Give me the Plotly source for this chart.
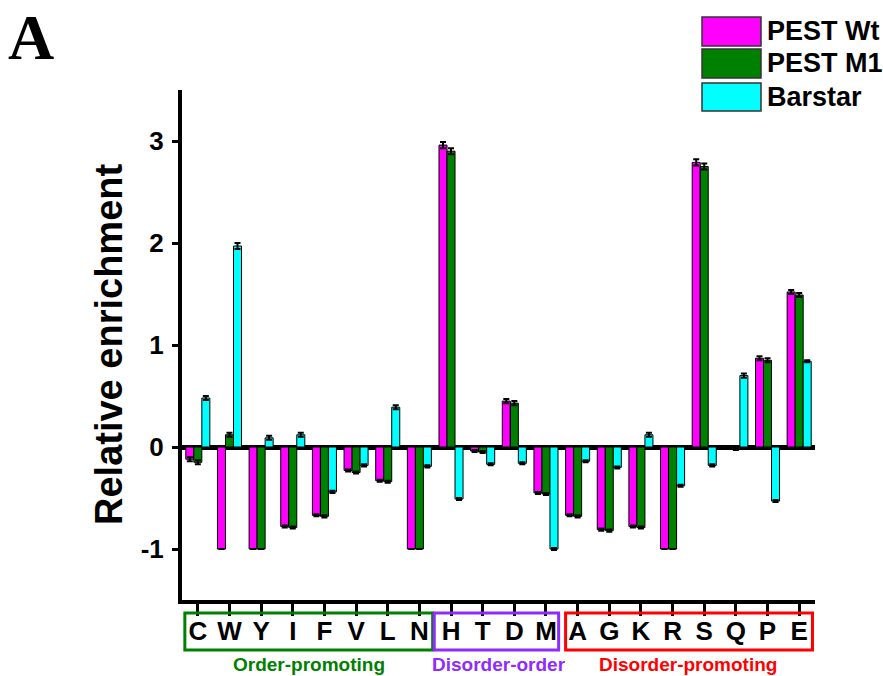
import plotly.graph_objects as go

categories = ["C", "W", "Y", "I", "F", "V", "L", "N", "H", "T",
              "D", "M", "A", "G", "K", "R", "S", "Q", "P", "E"]
pest_wt = [-0.12, -1.0, -1.0, -0.78, -0.67, -0.23, -0.33, -1.0, 2.96, -0.04,
           0.45, -0.45, -0.67, -0.81, -0.78, -1.0, 2.79, -0.01, 0.87, 1.52]
pest_m1 = [-0.15, 0.12, -1.0, -0.79, -0.68, -0.25, -0.34, -1.0, 2.90, -0.05,
           0.43, -0.46, -0.68, -0.82, -0.79, -1.0, 2.75, -0.02, 0.85, 1.49]
barstar = [0.48, 1.97, 0.09, 0.12, -0.44, -0.18, 0.39, -0.19, -0.51, -0.17,
           -0.16, -1.0, -0.14, -0.20, 0.12, -0.38, -0.18, 0.70, -0.53, 0.84]
pest_wt_err = [0.02, 0, 0, 0.01, 0.01, 0.01, 0.01, 0, 0.03, 0.01,
               0.02, 0.01, 0.01, 0.01, 0.01, 0, 0.03, 0.01, 0.02, 0.02]
pest_m1_err = [0.02, 0.02, 0, 0.01, 0.01, 0.01, 0.01, 0, 0.03, 0.01,
               0.02, 0.01, 0.01, 0.01, 0.01, 0, 0.03, 0.01, 0.02, 0.02]
barstar_err = [0.02, 0.03, 0.02, 0.02, 0.01, 0.01, 0.02, 0.01, 0.01, 0.01,
               0.01, 0.01, 0.01, 0.01, 0.02, 0.01, 0.01, 0.02, 0.01, 0.01]
y_tick_values = [-1, 0, 1, 2, 3]
y_tick_labels = ["-1", "0", "1", "2", "3"]
series_names = ["PEST Wt", "PEST M1", "Barstar"]
series_colors = ["#FF00FF", "#008000", "#00FFFF"]
groups = [("Order-promoting", 0, 7, "#008000"),
          ("Disorder-order", 8, 11, "#8F2BFF"),
          ("Disorder-promoting", 12, 19, "#FF0000")]

W, H = 883, 676
L, R, T, B = 182, 815, 90, 600
FONT = "Arial, Liberation Sans, sans-serif"


def px(x):
    return (x - L) / (R - L)


def py(y):
    return (B - y) / (B - T)


fig = go.Figure()
for name, vals, errs, col in zip(series_names, [pest_wt, pest_m1, barstar],
                                 [pest_wt_err, pest_m1_err, barstar_err], series_colors):
    fig.add_trace(go.Bar(
        x=list(range(len(categories))), y=vals, name=name,
        marker=dict(color=col, line=dict(color="black", width=1)),
        error_y=dict(type="data", array=errs, visible=True, color="black",
                     thickness=2, width=3),
        showlegend=False,
    ))

shapes = []
annotations = []
# category boxes and group labels
box_pad = [(-0.41, 7.42), (7.47, 11.4), (11.62, 19.42)]
for (label, i0, i1, col), (x0, x1) in zip(groups, box_pad):
    shapes.append(dict(type="rect", xref="x", yref="paper", x0=x0, x1=x1,
                       y0=py(650), y1=py(613), line=dict(color=col, width=3)))
    annotations.append(dict(text=label, xref="x", yref="paper", x=(i0 + i1) / 2,
                            y=py(664), xanchor="center", yanchor="middle",
                            showarrow=False,
                            font=dict(family=FONT, size=19, color=col, weight="bold")))

# manual legend
sw_y = [(17, 46), (49, 78), (83, 111)]
for name, col, (y0, y1) in zip(series_names, series_colors, sw_y):
    shapes.append(dict(type="rect", xref="paper", yref="paper", x0=px(702), x1=px(761),
                       y0=py(y1), y1=py(y0), fillcolor=col,
                       line=dict(color="#333333", width=1.5)))
    annotations.append(dict(text=name, xref="paper", yref="paper", x=px(765),
                            y=py((y0 + y1) / 2), xanchor="left", yanchor="middle",
                            showarrow=False,
                            font=dict(family=FONT, size=27, color="black", weight="bold")))

annotations.append(dict(text="Relative enrichment", xref="paper", yref="paper",
                        x=px(109), y=py(345), textangle=-90, showarrow=False,
                        xanchor="center", yanchor="middle",
                        font=dict(family=FONT, size=38, color="black", weight="bold")))
annotations.append(dict(text="A", xref="paper", yref="paper", x=px(6), y=py(38),
                        xanchor="left", yanchor="middle", showarrow=False,
                        font=dict(family="Liberation Serif, Times New Roman, serif",
                                  size=64, color="black", weight="bold")))

fig.update_layout(
    width=W, height=H,
    margin=dict(l=L, r=W - R, t=T, b=H - B, pad=0),
    paper_bgcolor="white", plot_bgcolor="white",
    barmode="group", bargap=0.24, bargroupgap=0,
    shapes=shapes, annotations=annotations,
    xaxis=dict(range=[-0.5, 19.5], tickmode="array",
               tickvals=list(range(len(categories))), ticktext=categories,
               showline=True, linecolor="black", linewidth=4,
               ticks="outside", ticklen=12, tickwidth=3, tickcolor="black",
               tickfont=dict(family=FONT, size=26, color="black", weight="bold"),
               ticklabelstandoff=-7,
               showgrid=False, zeroline=False, fixedrange=True),
    yaxis=dict(range=[-1.5, 3.5], tickmode="array", tickvals=y_tick_values,
               ticktext=y_tick_labels,
               showline=True, linecolor="black", linewidth=4,
               ticks="outside", ticklen=6, tickwidth=3, tickcolor="black",
               tickfont=dict(family=FONT, size=26, color="black", weight="bold"),
               ticklabelstandoff=3,
               showgrid=False, zeroline=True, zerolinecolor="black",
               zerolinewidth=5, fixedrange=True),
)

fig.write_html("out.html", config={"displayModeBar": False},
               post_script="document.body.style.margin='0';")
